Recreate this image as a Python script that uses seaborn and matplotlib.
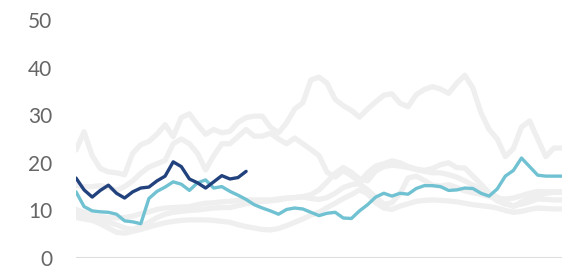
import matplotlib
matplotlib.use("Agg")
import matplotlib.pyplot as plt
import seaborn as sns
import numpy as np
import pandas as pd

periods = list(range(61))

gray_a = [22.7, 26.5, 21.5, 18.8, 18.1, 17.9, 17.5, 22.0, 23.8, 24.5, 26.0, 28.0, 25.5, 29.5, 30.3,
          28.0, 26.0, 27.0, 26.3, 26.6, 28.5, 29.5, 29.8, 29.8, 27.5, 26.3, 28.4, 31.3, 32.6, 37.4,
          38.0, 36.7, 33.3, 32.0, 31.0, 29.6, 31.3, 32.8, 34.2, 34.5, 32.5, 31.8, 34.3, 35.4, 36.0,
          35.5, 34.6, 36.7, 38.4, 35.7, 30.5, 27.0, 25.0, 21.3, 23.0, 27.5, 28.8, 25.0, 21.3, 23.1, 23.1]
gray_b = [15.2, 15.0, 15.0, 15.2, 14.8, 14.2, 15.0, 16.2, 17.8, 19.1, 19.8, 20.5, 24.0, 25.0, 24.0,
          22.0, 18.5, 21.5, 24.0, 24.0, 25.5, 27.0, 25.6, 25.6, 26.2, 25.0, 24.0, 25.2, 24.0, 22.8,
          21.5, 18.0, 17.0, 18.4, 17.3, 15.9, 17.9, 19.3, 19.8, 20.4, 20.0, 19.2, 18.7, 18.4, 18.8,
          19.6, 20.0, 19.0, 18.9, 17.2, 15.5, 13.7, 12.8, 11.8, 10.8, 11.8, 12.6, 13.1, 13.6, 13.8, 13.8]
gray_c = [10.2, 9.6, 9.0, 8.4, 7.5, 7.0, 6.3, 6.0, 6.6, 7.5, 8.5, 9.2, 9.6, 9.8, 10.0,
          10.1, 10.3, 10.5, 10.6, 10.6, 11.0, 11.4, 11.7, 11.9, 12.0, 12.2, 12.5, 12.7, 12.9, 13.3,
          14.3, 16.0, 17.8, 19.0, 18.0, 16.6, 16.2, 18.3, 19.2, 19.5, 19.3, 19.0, 18.6, 18.2, 17.9,
          17.9, 17.5, 17.0, 16.2, 15.3, 14.5, 13.3, 12.0, 11.3, 11.0, 11.3, 11.8, 12.4, 12.3, 12.2, 12.2]
gray_d = [8.5, 8.2, 7.9, 7.2, 6.3, 5.4, 5.2, 5.6, 6.0, 6.5, 7.0, 7.4, 7.7, 7.9, 8.0,
          8.0, 8.0, 7.9, 7.7, 7.5, 7.0, 6.6, 6.3, 6.0, 5.9, 6.2, 6.8, 7.5, 8.2, 9.0,
          9.6, 10.6, 11.5, 12.5, 13.3, 14.3, 13.5, 11.6, 10.5, 10.2, 10.9, 11.4, 11.9, 12.1, 12.2,
          12.1, 12.0, 11.8, 11.5, 11.2, 11.0, 10.8, 10.5, 10.0, 9.6, 9.8, 10.2, 10.5, 10.4, 10.3, 10.3]
gray_e = [9.4, 9.1, 8.9, 8.7, 8.5, 8.4, 8.5, 8.8, 9.3, 9.7, 10.2, 10.5, 10.6, 10.7, 10.8,
          11.2, 11.5, 11.6, 11.8, 11.9, 12.1, 12.2, 12.2, 12.2, 12.2, 12.4, 12.6, 12.7, 12.8, 12.5,
          12.3, 12.7, 13.6, 14.8, 15.4, 15.6, 14.3, 12.8, 11.3, 11.6, 13.5, 16.8, 17.2, 16.3, 15.3,
          15.1, 15.4, 14.8, 14.1, 13.7, 13.4, 12.9, 12.5, 12.4, 12.6, 13.1, 13.6, 14.0, 13.9, 13.9, 13.9]

light_blue = [13.9, 10.8, 9.9, 9.7, 9.6, 9.2, 7.8, 7.6, 7.2, 12.5, 14.0, 14.9, 16.0, 15.5, 14.2,
              15.8, 16.4, 14.7, 15.0, 14.0, 13.2, 12.3, 11.2, 10.5, 9.9, 9.2, 10.2, 10.5, 10.3, 9.6,
              8.9, 9.4, 9.6, 8.4, 8.3, 9.9, 11.2, 12.8, 13.6, 13.0, 13.6, 13.4, 14.6, 15.2, 15.2,
              15.0, 14.2, 14.3, 14.7, 14.6, 13.6, 13.0, 14.5, 17.2, 18.4, 21.0, 19.2, 17.4, 17.2, 17.2, 17.2]
navy = [16.8, 14.3, 12.8, 14.2, 15.3, 13.6, 12.6, 13.9, 14.7, 14.9, 16.2, 17.2, 20.2, 19.2, 16.6,
        15.8, 14.7, 16.0, 17.3, 16.6, 16.9, 18.2]

y_ticks = [0, 10, 20, 30, 40, 50]

sns.set_theme(style="white")
plt.rcParams['font.family'] = ['Lato', 'DejaVu Sans']

fig = plt.figure(figsize=(5.73, 2.66), dpi=100)
ax = fig.add_axes([76/573, 8/266, (562-76)/573, (258-20)/266])

gray_col = "#EFEFEF"
for s in [gray_a, gray_b, gray_c, gray_d, gray_e]:
    df = pd.DataFrame({"period": periods, "value": s})
    sns.lineplot(data=df, x="period", y="value", ax=ax, color=gray_col, lw=3.8,
                 solid_capstyle="round", solid_joinstyle="round")

df_lb = pd.DataFrame({"period": periods, "value": light_blue})
sns.lineplot(data=df_lb, x="period", y="value", ax=ax, color="#70C2D2", lw=2.4,
             solid_capstyle="round", solid_joinstyle="round")
df_nv = pd.DataFrame({"period": periods[:len(navy)], "value": navy})
sns.lineplot(data=df_nv, x="period", y="value", ax=ax, color="#22427E", lw=2.4,
             solid_capstyle="round", solid_joinstyle="round")

ax.axhline(0, color="#DDDDDD", lw=1.5, zorder=0)
ax.set_xlim(0, 60)
ax.set_ylim(0, 50)
ax.set_yticks(y_ticks)
ax.set_yticklabels([str(t) for t in y_ticks])
ax.set_xticks([])
ax.set_xlabel("")
ax.set_ylabel("")
for sp in ax.spines.values():
    sp.set_visible(False)
ax.tick_params(axis="y", length=0, pad=17, labelsize=15, labelcolor="#666666")

fig.savefig("out.png", dpi=100)
